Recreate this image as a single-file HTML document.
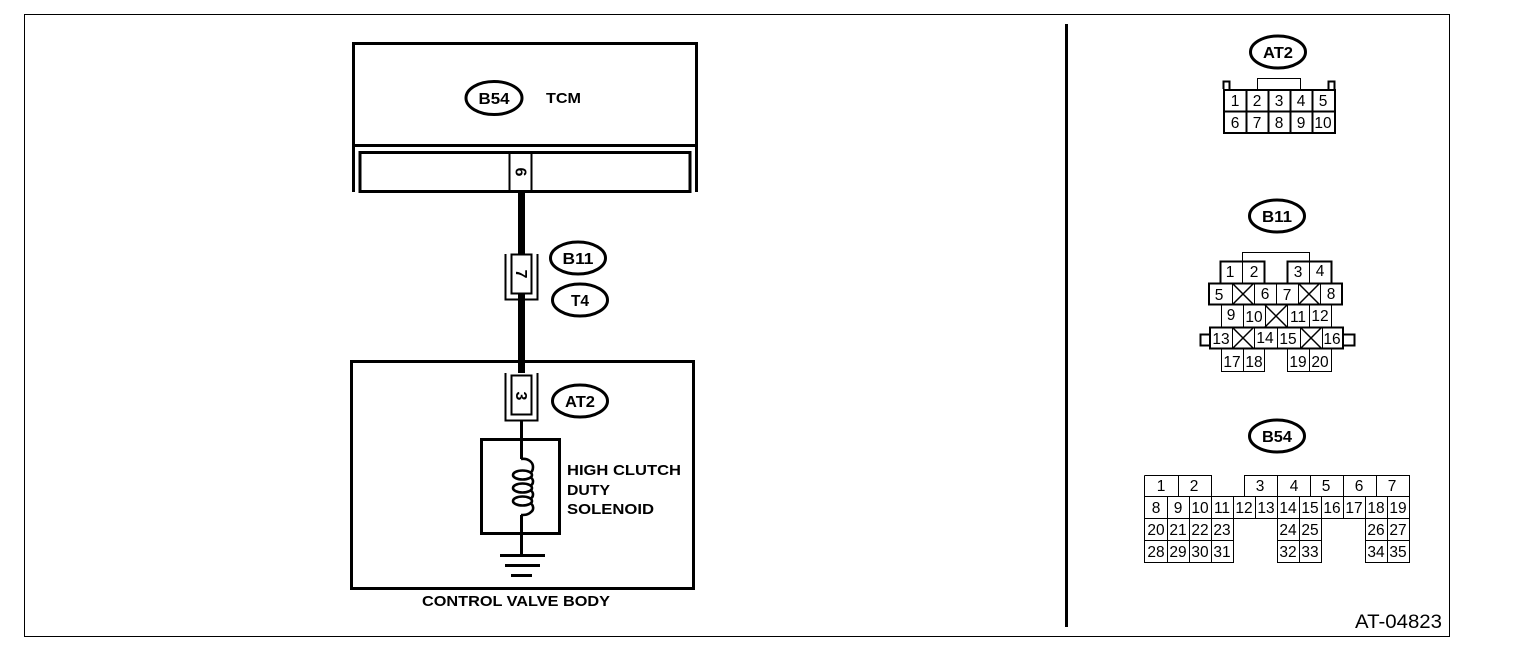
<!DOCTYPE html>
<html><head><meta charset="utf-8"><style>
html,body{margin:0;padding:0;background:#fff}
svg{display:block}
text{font-family:"Liberation Sans",sans-serif;fill:#000}
.p text{font-size:15.500px;text-anchor:middle}
.o{fill:none;stroke:#000;stroke-width:3}
.l{font-size:15.500px;font-weight:bold;text-anchor:middle}
.s{font-size:15px;font-weight:bold}
</style></head><body>
<svg width="1536" height="672" viewBox="0 0 1536 672" xmlns="http://www.w3.org/2000/svg">
<rect width="1536" height="672" fill="#fff"/>
<g fill="none" stroke="#000" shape-rendering="crispEdges">
<rect x="24.5" y="14.5" width="1425" height="622" stroke-width="1"/>
<path d="M1066.5 24V627" stroke-width="3"/>
<path d="M353.500 192V43.500H696.500V192M353 145.500H697" stroke-width="3"/>
<rect x="360" y="152.500" width="330" height="39" stroke-width="3"/>
<path d="M509.500 152V192M531.500 152V192" stroke-width="2"/>
<path d="M521.500 192V373" stroke-width="7"/>
<rect x="351.500" y="361.500" width="342" height="227" stroke-width="3"/>
<path d="M505.500 254V299.500H537.500V254" stroke-width="2"/>
<rect x="511.500" y="254.500" width="20" height="39" stroke-width="2" fill="#fff"/>
<path d="M505.500 373V420.500H537.500V373" stroke-width="2"/>
<rect x="511.500" y="375.500" width="20" height="39" stroke-width="2"/>
<path d="M521.500 421V459M521.500 515V555" stroke-width="3"/>
<rect x="481.500" y="439.500" width="78" height="94" stroke-width="3"/>
<path d="M500 555.500H545M505 565.500H540M511 575.500H532" stroke-width="3"/>
</g>
<g fill="none" stroke="#000" stroke-width="2.600">
<ellipse cx="522.500" cy="475" rx="9.500" ry="4.500"/>
<ellipse cx="522.500" cy="488" rx="9.500" ry="4.500"/>
<ellipse cx="522.500" cy="501" rx="9.500" ry="4.500"/>
<path d="M521 459C528 458 533 462 533 467C533 470 532 472 530 473M530 477C534 479 534 484 530 486M530 490C534 492 534 497 530 499M530 503C534 505 534 510 531 512C528 515 525 515 521 515"/>
</g>
<g class="o">
<ellipse cx="494" cy="98" rx="28" ry="16.500"/>
<ellipse cx="578" cy="258" rx="27.500" ry="16"/>
<ellipse cx="580" cy="300" rx="27.500" ry="16"/>
<ellipse cx="580" cy="401" rx="27.500" ry="16"/>
<ellipse cx="1278" cy="52" rx="27.500" ry="16"/>
<ellipse cx="1277" cy="216" rx="27.500" ry="16"/>
<ellipse cx="1277" cy="436" rx="27.500" ry="16"/>
</g>
<g class="l">
<text x="494" y="104" textLength="31" lengthAdjust="spacingAndGlyphs">B54</text>
<text x="578" y="264" textLength="31" lengthAdjust="spacingAndGlyphs">B11</text>
<text x="580" y="306">T4</text>
<text x="580" y="407" textLength="30" lengthAdjust="spacingAndGlyphs">AT2</text>
<text x="1278" y="58" textLength="30" lengthAdjust="spacingAndGlyphs">AT2</text>
<text x="1277" y="222" textLength="30" lengthAdjust="spacingAndGlyphs">B11</text>
<text x="1277" y="442" textLength="30" lengthAdjust="spacingAndGlyphs">B54</text>
</g>
<text x="546" y="103" font-size="15" font-weight="bold" textLength="35" lengthAdjust="spacingAndGlyphs">TCM</text>
<g class="s">
<text x="567" y="475" textLength="114" lengthAdjust="spacingAndGlyphs">HIGH CLUTCH</text>
<text x="567" y="495" textLength="43" lengthAdjust="spacingAndGlyphs">DUTY</text>
<text x="567" y="514" textLength="87" lengthAdjust="spacingAndGlyphs">SOLENOID</text>
<text x="422" y="606" textLength="188" lengthAdjust="spacingAndGlyphs">CONTROL VALVE BODY</text>
</g>
<g font-size="16" text-anchor="middle" font-weight="bold">
<text transform="translate(515.500 172) rotate(90)">6</text>
<text transform="translate(516 274) rotate(90)">7</text>
<text transform="translate(516 396) rotate(90)">3</text>
</g>
<text x="1355" y="628" font-size="19" textLength="87" lengthAdjust="spacingAndGlyphs">AT-04823</text>
<g fill="none" stroke="#000" shape-rendering="crispEdges">
<!-- AT2 -->
<path d="M1257.500 89V78.500H1300.500V89" stroke-width="1"/>
<path d="M1223.500 89V81.500H1229.500V89M1328.500 89V81.500H1334.500V89" stroke-width="2"/>
<rect x="1224" y="90" width="111" height="43" stroke-width="2"/>
<path d="M1224 111.500H1335M1246.500 90V133M1268.500 90V133M1290.500 90V133M1312.500 90V133" stroke-width="2"/>
<!-- B11 -->
<path d="M1242.500 261V252.500H1309.500V261" stroke-width="1"/>
<path d="M1220.500 283V261.500H1264.500V283M1287.500 283V261.500H1331.500V283" stroke-width="2"/>
<path d="M1242.500 261V283M1309.500 261V283" stroke-width="1"/>
<rect x="1209" y="283.500" width="133" height="21" stroke-width="2"/>
<path d="M1232.500 283V305M1254.500 283V305M1276.500 283V305M1298.500 283V305M1320.500 283V305" stroke-width="1"/>
<path d="M1221.500 305V327M1243.500 305V327M1265.500 305V327M1287.500 305V327M1309.500 305V327M1331.500 305V327" stroke-width="1"/>
<rect x="1210" y="327.500" width="133" height="21" stroke-width="2"/>
<path d="M1232.500 327V349M1254.500 327V349M1277.500 327V349M1300.500 327V349M1322.500 327V349" stroke-width="1"/>
<path d="M1210 334.500H1200.500V345.500H1210M1343 334.500H1354.500V345.500H1343" stroke-width="2"/>
<path d="M1221.500 349V371.500H1264.500V349M1287.500 349V371.500H1331.500V349M1243.500 349V372M1309.500 349V372" stroke-width="1"/>
</g>
<path d="M1232 283L1254 305M1254 283L1232 305M1298 283L1320 305M1320 283L1298 305M1265 305L1287 327M1287 305L1265 327M1232 327L1254 349M1254 327L1232 349M1300 327L1322 349M1322 327L1300 349" stroke="#000" stroke-width="1.500" fill="none"/>
<g fill="none" stroke="#000" stroke-width="1" shape-rendering="crispEdges">
<!-- B54 -->
<path d="M1144.500 475.500H1211.500V496M1144.500 475.500V562.500H1233.500M1244.500 496V475.500H1409.500V562.500H1365.500V518M1178.500 475V496M1277.500 475V496M1310.500 475V496M1343.500 475V496M1376.500 475V496"/>
<path d="M1144 496.500H1409M1144 518.500H1409M1144 540.500H1233M1277 540.500H1321M1365 540.500H1409M1277 562.500H1321"/>
<path d="M1167.500 496V563M1189.500 496V563M1211.500 496V563M1233.500 496V563M1255.500 496V518M1277.500 496V563M1299.500 496V563M1321.500 496V563M1343.500 496V518M1365.500 496V563M1387.500 496V563"/>
</g>
<rect x="1234" y="519" width="43" height="44" fill="#fff"/>
<rect x="1322" y="519" width="43" height="44" fill="#fff"/>
<g class="p">
<text x="1235" y="106">1</text><text x="1257" y="106">2</text><text x="1279" y="106">3</text><text x="1301" y="106">4</text><text x="1323" y="106">5</text>
<text x="1235" y="128">6</text><text x="1257" y="128">7</text><text x="1279" y="128">8</text><text x="1301" y="128">9</text><text x="1323" y="128">10</text>
<text x="1230" y="277">1</text><text x="1254" y="277">2</text><text x="1298" y="277">3</text><text x="1320" y="276">4</text>
<text x="1219" y="300">5</text><text x="1265" y="299">6</text><text x="1287" y="300">7</text><text x="1331" y="299">8</text>
<text x="1231" y="320">9</text><text x="1254" y="322">10</text><text x="1298" y="322">11</text><text x="1320" y="321">12</text>
<text x="1221" y="344">13</text><text x="1265" y="343">14</text><text x="1288" y="344">15</text><text x="1332" y="344">16</text>
<text x="1232" y="367">17</text><text x="1254" y="367">18</text><text x="1298" y="367">19</text><text x="1320" y="367">20</text>
<text x="1161" y="491">1</text><text x="1194" y="491">2</text><text x="1260" y="491">3</text><text x="1294" y="491">4</text><text x="1326" y="491">5</text><text x="1359" y="491">6</text><text x="1392" y="491">7</text>
<text x="1156" y="513">8</text><text x="1178" y="513">9</text><text x="1200" y="513">10</text><text x="1222" y="513">11</text><text x="1244" y="513">12</text><text x="1266" y="513">13</text><text x="1288" y="513">14</text><text x="1310" y="513">15</text><text x="1332" y="513">16</text><text x="1354" y="513">17</text><text x="1376" y="513">18</text><text x="1398" y="513">19</text>
<text x="1156" y="535">20</text><text x="1178" y="535">21</text><text x="1200" y="535">22</text><text x="1222" y="535">23</text><text x="1288" y="535">24</text><text x="1310" y="535">25</text><text x="1376" y="535">26</text><text x="1398" y="535">27</text>
<text x="1156" y="557">28</text><text x="1178" y="557">29</text><text x="1200" y="557">30</text><text x="1222" y="557">31</text><text x="1288" y="557">32</text><text x="1310" y="557">33</text><text x="1376" y="557">34</text><text x="1398" y="557">35</text>
</g>
</svg>
</body></html>
